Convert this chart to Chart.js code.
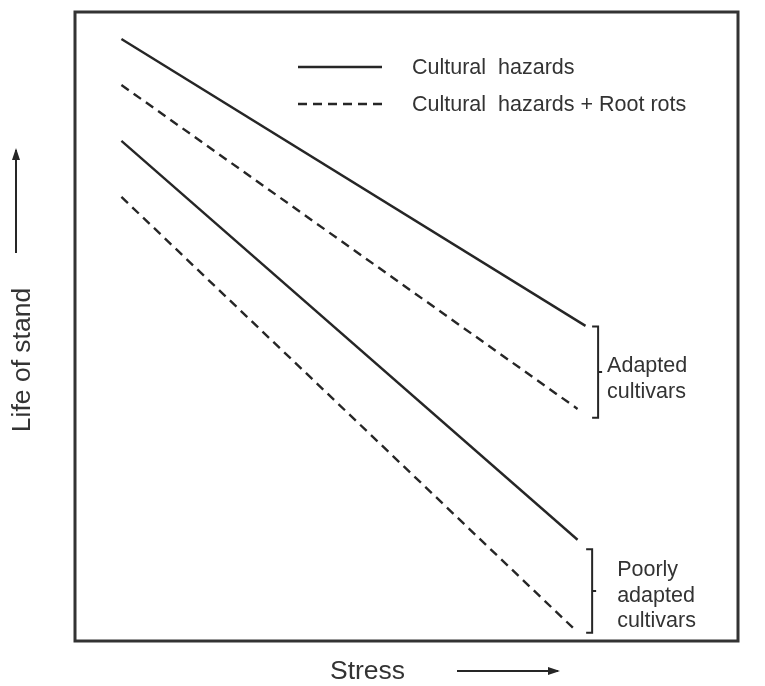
<!DOCTYPE html>
<html>
<head>
<meta charset="utf-8">
<script src="https://cdn.jsdelivr.net/npm/chart.js@4"></script>
<style>
  html, body { margin: 0; padding: 0; background: #fff; }
  #wrap { width: 765px; height: 686px; }
</style>
</head>
<body>
<div id="wrap"><canvas id="chart" width="765" height="686"></canvas></div>
<script>
// stress (x) and life of stand (y), arbitrary units 0..10
const stressStart = [0.7, 0.7, 0.7, 0.7];
const stressEnd = [7.7, 7.58, 7.58, 7.55];
const lifeStart = [9.57, 8.84, 7.95, 7.06];
const lifeEnd = [5.01, 3.69, 1.61, 0.17];
const seriesNames = ['Cultural  hazards', 'Cultural  hazards + Root rots', 'Cultural  hazards', 'Cultural  hazards + Root rots'];
const dashedSeries = [false, true, false, true];

const legendLabels = ['Cultural  hazards', 'Cultural  hazards + Root rots'];
const legendDashed = [false, true];

// brackets grouping the cultivar lines
const bracketX = [7.89, 7.8];
const bracketTop = [5.0, 1.46];
const bracketBottom = [3.55, 0.13];
const bracketLabels = [['Adapted', 'cultivars'], ['Poorly', 'adapted', 'cultivars']];

const xTitle = 'Stress';
const yTitle = 'Life of stand';

const ink = '#262626';
const textInk = '#333';
const fontFamily = '"Liberation Sans", Arial, Helvetica, sans-serif';
const dash = [9, 6];

const datasets = seriesNames.map((name, i) => ({
    label: name,
    data: [{ x: stressStart[i], y: lifeStart[i] }, { x: stressEnd[i], y: lifeEnd[i] }],
    borderColor: ink,
    borderWidth: 2.4,
    borderDash: dashedSeries[i] ? dash : [],
    pointRadius: 0,
    fill: false,
    tension: 0
}));

function arrow(ctx, x1, y1, x2, y2) {
    ctx.beginPath();
    ctx.moveTo(x1, y1);
    ctx.lineTo(x2, y2);
    ctx.stroke();
    const a = Math.atan2(y2 - y1, x2 - x1);
    const len = 10, w = 4;
    ctx.save();
    ctx.translate(x2, y2);
    ctx.rotate(a);
    ctx.beginPath();
    ctx.moveTo(2, 0);
    ctx.lineTo(-len, -w);
    ctx.lineTo(-len, w);
    ctx.closePath();
    ctx.fill();
    ctx.restore();
}

const decorations = {
    id: 'decorations',
    afterDraw(chart) {
        const { ctx, chartArea: ca, scales } = chart;
        const xs = scales.x, ys = scales.y;
        ctx.save();

        // frame
        ctx.strokeStyle = '#333';
        ctx.lineWidth = 3;
        ctx.strokeRect(ca.left, ca.top, ca.right - ca.left, ca.bottom - ca.top);

        // legend
        ctx.strokeStyle = ink;
        ctx.lineWidth = 2.4;
        ctx.fillStyle = textInk;
        ctx.font = '21.5px ' + fontFamily;
        ctx.textBaseline = 'middle';
        ctx.textAlign = 'left';
        legendLabels.forEach((label, i) => {
            const y = 67 + i * 37;
            ctx.setLineDash(legendDashed[i] ? dash : []);
            ctx.beginPath();
            ctx.moveTo(298, y);
            ctx.lineTo(382, y);
            ctx.stroke();
            ctx.fillText(label, 412, y + 1);
        });
        ctx.setLineDash([]);

        // brackets
        bracketLabels.forEach((lines, g) => {
            const top = ys.getPixelForValue(bracketTop[g]);
            const bottom = ys.getPixelForValue(bracketBottom[g]);
            const bx = xs.getPixelForValue(bracketX[g]);
            const mid = (top + bottom) / 2;
            ctx.lineWidth = 2;
            ctx.beginPath();
            ctx.moveTo(bx - 6, top);
            ctx.lineTo(bx, top);
            ctx.lineTo(bx, bottom);
            ctx.lineTo(bx - 6, bottom);
            ctx.moveTo(bx, mid);
            ctx.lineTo(bx + 4, mid);
            ctx.stroke();
            const lh = 25.5;
            const tx = g === 0 ? bx + 9 : bx + 25;
            const y0 = mid - (lines.length - 1) * lh / 2 + (g === 0 ? 7 : 5);
            lines.forEach((t, k) => ctx.fillText(t, tx, y0 + k * lh));
        });

        // axis titles with arrows
        ctx.font = '26.5px ' + fontFamily;
        ctx.fillStyle = textInk;
        ctx.strokeStyle = ink;
        ctx.lineWidth = 2;
        ctx.textAlign = 'left';
        ctx.fillText(xTitle, 330, 672);
        ctx.fillStyle = ink;
        arrow(ctx, 457, 671, 558, 671);

        ctx.save();
        ctx.translate(23, 360);
        ctx.rotate(-Math.PI / 2);
        ctx.textAlign = 'center';
        ctx.fillStyle = textInk;
        ctx.fillText(yTitle, 0, 0);
        ctx.restore();
        ctx.fillStyle = ink;
        arrow(ctx, 16, 253, 16, 150);

        ctx.restore();
    }
};

new Chart(document.getElementById('chart'), {
    type: 'line',
    data: { datasets: datasets },
    options: {
        responsive: false,
        animation: false,
        layout: { padding: { left: 75, top: 12, right: 27, bottom: 45 } },
        plugins: {
            legend: { display: false },
            tooltip: { enabled: false }
        },
        scales: {
            x: { type: 'linear', min: 0, max: 10, display: false },
            y: { type: 'linear', min: 0, max: 10, display: false }
        }
    },
    plugins: [decorations]
});
</script>
</body>
</html>
